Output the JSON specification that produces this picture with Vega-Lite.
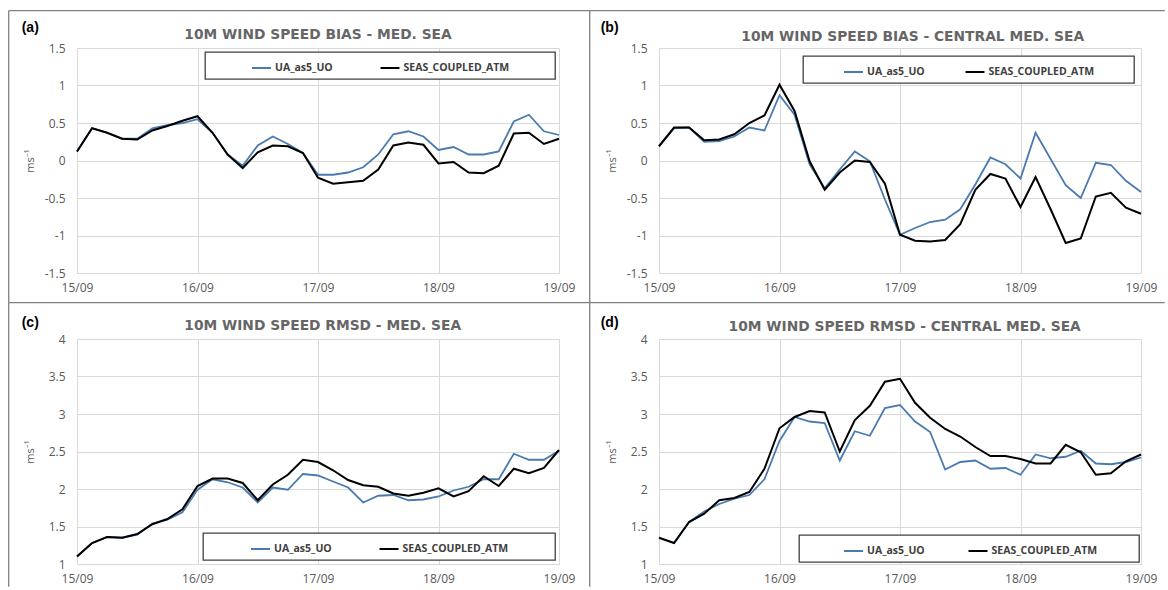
{
  "$schema": "https://vega.github.io/schema/vega-lite/v6.json",
  "padding": {"left": 8, "top": 10, "right": 0, "bottom": 0},
  "autosize": {"type": "pad"},
  "background": "white",
  "bounds": "flush",
  "columns": 2,
  "spacing": {"row": 66, "column": 100},
  "config": {
    "view": {"stroke": null},
    "axis": {
      "domain": false, "ticks": false, "tickSize": 0,
      "grid": true, "gridColor": "#d9d9d9", "gridWidth": 1,
      "labelFont": "Open Sans", "labelFontSize": 12, "labelColor": "#595959",
      "titleFont": "Open Sans", "titleFontWeight": "normal", "titleFontSize": 11, "titleColor": "#595959"
    },
    "legend": {
      "direction": "horizontal", "padding": 5.5,
      "strokeColor": "#404040", "strokeWidth": 1.3, "fillColor": "white",
      "labelFont": "Open Sans", "labelFontWeight": "bold", "labelFontSize": 10.5, "labelColor": "#404040",
      "symbolType": "stroke", "symbolSize": 360, "symbolStrokeWidth": 2, "labelOffset": 3,
      "titleOrient": "right", "titleFontSize": 4
    }
  },
  "resolve": {
    "scale": {"x": "independent", "y": "independent", "color": "independent"},
    "axis": {"x": "independent", "y": "independent"},
    "legend": {"color": "independent"}
  },
  "datasets": {
    "a": [
      {"t": "2019-09-15T00:00", "UA_as5_UO": 0.12, "SEAS_COUPLED_ATM": 0.12},
      {"t": "2019-09-15T03:00", "UA_as5_UO": 0.43, "SEAS_COUPLED_ATM": 0.43},
      {"t": "2019-09-15T06:00", "UA_as5_UO": 0.37, "SEAS_COUPLED_ATM": 0.37},
      {"t": "2019-09-15T09:00", "UA_as5_UO": 0.29, "SEAS_COUPLED_ATM": 0.29},
      {"t": "2019-09-15T12:00", "UA_as5_UO": 0.29, "SEAS_COUPLED_ATM": 0.28},
      {"t": "2019-09-15T15:00", "UA_as5_UO": 0.43, "SEAS_COUPLED_ATM": 0.40},
      {"t": "2019-09-15T18:00", "UA_as5_UO": 0.47, "SEAS_COUPLED_ATM": 0.46},
      {"t": "2019-09-15T21:00", "UA_as5_UO": 0.50, "SEAS_COUPLED_ATM": 0.53},
      {"t": "2019-09-16T00:00", "UA_as5_UO": 0.55, "SEAS_COUPLED_ATM": 0.59},
      {"t": "2019-09-16T03:00", "UA_as5_UO": 0.37, "SEAS_COUPLED_ATM": 0.37},
      {"t": "2019-09-16T06:00", "UA_as5_UO": 0.08, "SEAS_COUPLED_ATM": 0.08},
      {"t": "2019-09-16T09:00", "UA_as5_UO": -0.07, "SEAS_COUPLED_ATM": -0.10},
      {"t": "2019-09-16T12:00", "UA_as5_UO": 0.20, "SEAS_COUPLED_ATM": 0.11},
      {"t": "2019-09-16T15:00", "UA_as5_UO": 0.32, "SEAS_COUPLED_ATM": 0.20},
      {"t": "2019-09-16T18:00", "UA_as5_UO": 0.22, "SEAS_COUPLED_ATM": 0.19},
      {"t": "2019-09-16T21:00", "UA_as5_UO": 0.10, "SEAS_COUPLED_ATM": 0.10},
      {"t": "2019-09-17T00:00", "UA_as5_UO": -0.19, "SEAS_COUPLED_ATM": -0.23},
      {"t": "2019-09-17T03:00", "UA_as5_UO": -0.19, "SEAS_COUPLED_ATM": -0.31},
      {"t": "2019-09-17T06:00", "UA_as5_UO": -0.16, "SEAS_COUPLED_ATM": -0.29},
      {"t": "2019-09-17T09:00", "UA_as5_UO": -0.09, "SEAS_COUPLED_ATM": -0.27},
      {"t": "2019-09-17T12:00", "UA_as5_UO": 0.08, "SEAS_COUPLED_ATM": -0.12},
      {"t": "2019-09-17T15:00", "UA_as5_UO": 0.35, "SEAS_COUPLED_ATM": 0.20},
      {"t": "2019-09-17T18:00", "UA_as5_UO": 0.39, "SEAS_COUPLED_ATM": 0.24},
      {"t": "2019-09-17T21:00", "UA_as5_UO": 0.32, "SEAS_COUPLED_ATM": 0.21},
      {"t": "2019-09-18T00:00", "UA_as5_UO": 0.14, "SEAS_COUPLED_ATM": -0.04},
      {"t": "2019-09-18T03:00", "UA_as5_UO": 0.18, "SEAS_COUPLED_ATM": -0.02},
      {"t": "2019-09-18T06:00", "UA_as5_UO": 0.08, "SEAS_COUPLED_ATM": -0.16},
      {"t": "2019-09-18T09:00", "UA_as5_UO": 0.08, "SEAS_COUPLED_ATM": -0.17},
      {"t": "2019-09-18T12:00", "UA_as5_UO": 0.12, "SEAS_COUPLED_ATM": -0.07},
      {"t": "2019-09-18T15:00", "UA_as5_UO": 0.52, "SEAS_COUPLED_ATM": 0.36},
      {"t": "2019-09-18T18:00", "UA_as5_UO": 0.61, "SEAS_COUPLED_ATM": 0.37},
      {"t": "2019-09-18T21:00", "UA_as5_UO": 0.39, "SEAS_COUPLED_ATM": 0.22},
      {"t": "2019-09-19T00:00", "UA_as5_UO": 0.34, "SEAS_COUPLED_ATM": 0.29}
    ],
    "b": [
      {"t": "2019-09-15T00:00", "UA_as5_UO": 0.19, "SEAS_COUPLED_ATM": 0.19},
      {"t": "2019-09-15T03:00", "UA_as5_UO": 0.43, "SEAS_COUPLED_ATM": 0.44},
      {"t": "2019-09-15T06:00", "UA_as5_UO": 0.44, "SEAS_COUPLED_ATM": 0.44},
      {"t": "2019-09-15T09:00", "UA_as5_UO": 0.25, "SEAS_COUPLED_ATM": 0.27},
      {"t": "2019-09-15T12:00", "UA_as5_UO": 0.26, "SEAS_COUPLED_ATM": 0.28},
      {"t": "2019-09-15T15:00", "UA_as5_UO": 0.32, "SEAS_COUPLED_ATM": 0.35},
      {"t": "2019-09-15T18:00", "UA_as5_UO": 0.44, "SEAS_COUPLED_ATM": 0.50},
      {"t": "2019-09-15T21:00", "UA_as5_UO": 0.40, "SEAS_COUPLED_ATM": 0.60},
      {"t": "2019-09-16T00:00", "UA_as5_UO": 0.87, "SEAS_COUPLED_ATM": 1.01},
      {"t": "2019-09-16T03:00", "UA_as5_UO": 0.61, "SEAS_COUPLED_ATM": 0.66},
      {"t": "2019-09-16T06:00", "UA_as5_UO": -0.05, "SEAS_COUPLED_ATM": -0.01},
      {"t": "2019-09-16T09:00", "UA_as5_UO": -0.37, "SEAS_COUPLED_ATM": -0.39},
      {"t": "2019-09-16T12:00", "UA_as5_UO": -0.12, "SEAS_COUPLED_ATM": -0.16},
      {"t": "2019-09-16T15:00", "UA_as5_UO": 0.12, "SEAS_COUPLED_ATM": 0.00},
      {"t": "2019-09-16T18:00", "UA_as5_UO": -0.01, "SEAS_COUPLED_ATM": -0.02},
      {"t": "2019-09-16T21:00", "UA_as5_UO": -0.52, "SEAS_COUPLED_ATM": -0.31},
      {"t": "2019-09-17T00:00", "UA_as5_UO": -0.99, "SEAS_COUPLED_ATM": -0.99},
      {"t": "2019-09-17T03:00", "UA_as5_UO": -0.90, "SEAS_COUPLED_ATM": -1.07},
      {"t": "2019-09-17T06:00", "UA_as5_UO": -0.82, "SEAS_COUPLED_ATM": -1.08},
      {"t": "2019-09-17T09:00", "UA_as5_UO": -0.79, "SEAS_COUPLED_ATM": -1.06},
      {"t": "2019-09-17T12:00", "UA_as5_UO": -0.65, "SEAS_COUPLED_ATM": -0.85},
      {"t": "2019-09-17T15:00", "UA_as5_UO": -0.32, "SEAS_COUPLED_ATM": -0.39},
      {"t": "2019-09-17T18:00", "UA_as5_UO": 0.04, "SEAS_COUPLED_ATM": -0.18},
      {"t": "2019-09-17T21:00", "UA_as5_UO": -0.05, "SEAS_COUPLED_ATM": -0.24},
      {"t": "2019-09-18T00:00", "UA_as5_UO": -0.24, "SEAS_COUPLED_ATM": -0.62},
      {"t": "2019-09-18T03:00", "UA_as5_UO": 0.37, "SEAS_COUPLED_ATM": -0.22},
      {"t": "2019-09-18T06:00", "UA_as5_UO": 0.02, "SEAS_COUPLED_ATM": -0.65},
      {"t": "2019-09-18T09:00", "UA_as5_UO": -0.33, "SEAS_COUPLED_ATM": -1.10},
      {"t": "2019-09-18T12:00", "UA_as5_UO": -0.50, "SEAS_COUPLED_ATM": -1.04},
      {"t": "2019-09-18T15:00", "UA_as5_UO": -0.03, "SEAS_COUPLED_ATM": -0.48},
      {"t": "2019-09-18T18:00", "UA_as5_UO": -0.06, "SEAS_COUPLED_ATM": -0.43},
      {"t": "2019-09-18T21:00", "UA_as5_UO": -0.27, "SEAS_COUPLED_ATM": -0.63},
      {"t": "2019-09-19T00:00", "UA_as5_UO": -0.42, "SEAS_COUPLED_ATM": -0.71}
    ],
    "c": [
      {"t": "2019-09-15T00:00", "UA_as5_UO": 1.10, "SEAS_COUPLED_ATM": 1.10},
      {"t": "2019-09-15T03:00", "UA_as5_UO": 1.28, "SEAS_COUPLED_ATM": 1.28},
      {"t": "2019-09-15T06:00", "UA_as5_UO": 1.36, "SEAS_COUPLED_ATM": 1.36},
      {"t": "2019-09-15T09:00", "UA_as5_UO": 1.35, "SEAS_COUPLED_ATM": 1.35},
      {"t": "2019-09-15T12:00", "UA_as5_UO": 1.39, "SEAS_COUPLED_ATM": 1.40},
      {"t": "2019-09-15T15:00", "UA_as5_UO": 1.54, "SEAS_COUPLED_ATM": 1.53},
      {"t": "2019-09-15T18:00", "UA_as5_UO": 1.59, "SEAS_COUPLED_ATM": 1.60},
      {"t": "2019-09-15T21:00", "UA_as5_UO": 1.69, "SEAS_COUPLED_ATM": 1.73},
      {"t": "2019-09-16T00:00", "UA_as5_UO": 1.99, "SEAS_COUPLED_ATM": 2.04},
      {"t": "2019-09-16T03:00", "UA_as5_UO": 2.13, "SEAS_COUPLED_ATM": 2.14},
      {"t": "2019-09-16T06:00", "UA_as5_UO": 2.09, "SEAS_COUPLED_ATM": 2.14},
      {"t": "2019-09-16T09:00", "UA_as5_UO": 2.02, "SEAS_COUPLED_ATM": 2.08},
      {"t": "2019-09-16T12:00", "UA_as5_UO": 1.82, "SEAS_COUPLED_ATM": 1.85},
      {"t": "2019-09-16T15:00", "UA_as5_UO": 2.02, "SEAS_COUPLED_ATM": 2.06},
      {"t": "2019-09-16T18:00", "UA_as5_UO": 1.99, "SEAS_COUPLED_ATM": 2.19},
      {"t": "2019-09-16T21:00", "UA_as5_UO": 2.20, "SEAS_COUPLED_ATM": 2.39},
      {"t": "2019-09-17T00:00", "UA_as5_UO": 2.18, "SEAS_COUPLED_ATM": 2.36},
      {"t": "2019-09-17T03:00", "UA_as5_UO": 2.10, "SEAS_COUPLED_ATM": 2.25},
      {"t": "2019-09-17T06:00", "UA_as5_UO": 2.02, "SEAS_COUPLED_ATM": 2.12},
      {"t": "2019-09-17T09:00", "UA_as5_UO": 1.82, "SEAS_COUPLED_ATM": 2.05},
      {"t": "2019-09-17T12:00", "UA_as5_UO": 1.91, "SEAS_COUPLED_ATM": 2.03},
      {"t": "2019-09-17T15:00", "UA_as5_UO": 1.92, "SEAS_COUPLED_ATM": 1.94},
      {"t": "2019-09-17T18:00", "UA_as5_UO": 1.85, "SEAS_COUPLED_ATM": 1.91},
      {"t": "2019-09-17T21:00", "UA_as5_UO": 1.86, "SEAS_COUPLED_ATM": 1.95},
      {"t": "2019-09-18T00:00", "UA_as5_UO": 1.90, "SEAS_COUPLED_ATM": 2.01},
      {"t": "2019-09-18T03:00", "UA_as5_UO": 1.98, "SEAS_COUPLED_ATM": 1.90},
      {"t": "2019-09-18T06:00", "UA_as5_UO": 2.03, "SEAS_COUPLED_ATM": 1.97},
      {"t": "2019-09-18T09:00", "UA_as5_UO": 2.13, "SEAS_COUPLED_ATM": 2.17},
      {"t": "2019-09-18T12:00", "UA_as5_UO": 2.13, "SEAS_COUPLED_ATM": 2.04},
      {"t": "2019-09-18T15:00", "UA_as5_UO": 2.47, "SEAS_COUPLED_ATM": 2.27},
      {"t": "2019-09-18T18:00", "UA_as5_UO": 2.39, "SEAS_COUPLED_ATM": 2.21},
      {"t": "2019-09-18T21:00", "UA_as5_UO": 2.39, "SEAS_COUPLED_ATM": 2.28},
      {"t": "2019-09-19T00:00", "UA_as5_UO": 2.51, "SEAS_COUPLED_ATM": 2.52}
    ],
    "d": [
      {"t": "2019-09-15T00:00", "UA_as5_UO": 1.35, "SEAS_COUPLED_ATM": 1.35},
      {"t": "2019-09-15T03:00", "UA_as5_UO": 1.28, "SEAS_COUPLED_ATM": 1.28},
      {"t": "2019-09-15T06:00", "UA_as5_UO": 1.56, "SEAS_COUPLED_ATM": 1.56},
      {"t": "2019-09-15T09:00", "UA_as5_UO": 1.70, "SEAS_COUPLED_ATM": 1.67},
      {"t": "2019-09-15T12:00", "UA_as5_UO": 1.80, "SEAS_COUPLED_ATM": 1.85},
      {"t": "2019-09-15T15:00", "UA_as5_UO": 1.87, "SEAS_COUPLED_ATM": 1.88},
      {"t": "2019-09-15T18:00", "UA_as5_UO": 1.92, "SEAS_COUPLED_ATM": 1.96},
      {"t": "2019-09-15T21:00", "UA_as5_UO": 2.13, "SEAS_COUPLED_ATM": 2.27},
      {"t": "2019-09-16T00:00", "UA_as5_UO": 2.64, "SEAS_COUPLED_ATM": 2.81},
      {"t": "2019-09-16T03:00", "UA_as5_UO": 2.96, "SEAS_COUPLED_ATM": 2.96},
      {"t": "2019-09-16T06:00", "UA_as5_UO": 2.90, "SEAS_COUPLED_ATM": 3.04},
      {"t": "2019-09-16T09:00", "UA_as5_UO": 2.88, "SEAS_COUPLED_ATM": 3.02},
      {"t": "2019-09-16T12:00", "UA_as5_UO": 2.38, "SEAS_COUPLED_ATM": 2.50},
      {"t": "2019-09-16T15:00", "UA_as5_UO": 2.77, "SEAS_COUPLED_ATM": 2.92},
      {"t": "2019-09-16T18:00", "UA_as5_UO": 2.71, "SEAS_COUPLED_ATM": 3.11},
      {"t": "2019-09-16T21:00", "UA_as5_UO": 3.08, "SEAS_COUPLED_ATM": 3.43},
      {"t": "2019-09-17T00:00", "UA_as5_UO": 3.12, "SEAS_COUPLED_ATM": 3.47},
      {"t": "2019-09-17T03:00", "UA_as5_UO": 2.90, "SEAS_COUPLED_ATM": 3.15},
      {"t": "2019-09-17T06:00", "UA_as5_UO": 2.76, "SEAS_COUPLED_ATM": 2.95},
      {"t": "2019-09-17T09:00", "UA_as5_UO": 2.26, "SEAS_COUPLED_ATM": 2.80},
      {"t": "2019-09-17T12:00", "UA_as5_UO": 2.36, "SEAS_COUPLED_ATM": 2.70},
      {"t": "2019-09-17T15:00", "UA_as5_UO": 2.38, "SEAS_COUPLED_ATM": 2.56},
      {"t": "2019-09-17T18:00", "UA_as5_UO": 2.27, "SEAS_COUPLED_ATM": 2.44},
      {"t": "2019-09-17T21:00", "UA_as5_UO": 2.28, "SEAS_COUPLED_ATM": 2.44},
      {"t": "2019-09-18T00:00", "UA_as5_UO": 2.19, "SEAS_COUPLED_ATM": 2.40},
      {"t": "2019-09-18T03:00", "UA_as5_UO": 2.46, "SEAS_COUPLED_ATM": 2.34},
      {"t": "2019-09-18T06:00", "UA_as5_UO": 2.41, "SEAS_COUPLED_ATM": 2.34},
      {"t": "2019-09-18T09:00", "UA_as5_UO": 2.43, "SEAS_COUPLED_ATM": 2.59},
      {"t": "2019-09-18T12:00", "UA_as5_UO": 2.51, "SEAS_COUPLED_ATM": 2.49},
      {"t": "2019-09-18T15:00", "UA_as5_UO": 2.34, "SEAS_COUPLED_ATM": 2.19},
      {"t": "2019-09-18T18:00", "UA_as5_UO": 2.33, "SEAS_COUPLED_ATM": 2.21},
      {"t": "2019-09-18T21:00", "UA_as5_UO": 2.36, "SEAS_COUPLED_ATM": 2.37},
      {"t": "2019-09-19T00:00", "UA_as5_UO": 2.42, "SEAS_COUPLED_ATM": 2.46}
    ]
  },
  "concat": [
    {
      "width": 482, "height": 225,
      "layer": [
        {
          "data": {"name": "a"},
          "transform": [{"fold": ["UA_as5_UO", "SEAS_COUPLED_ATM"], "as": ["series", "value"]}, {"filter": "datum.series === 'UA_as5_UO'"}],
          "mark": {"type": "line", "strokeWidth": 1.8},
          "encoding": {
            "x": {"field": "t", "type": "temporal", "scale": {"domain": [{"year": 2019, "month": 9, "date": 15}, {"year": 2019, "month": 9, "date": 19}]},
                  "axis": {"title": null, "format": "%d/%m", "tickCount": {"interval": "day", "step": 1}, "labelPadding": 9, "labelFlush": false}},
            "y": {"field": "value", "type": "quantitative", "scale": {"domain": [-1.5, 1.5], "nice": false, "zero": false},
                  "axis": {"title": "ms⁻¹", "values": [-1.5, -1, -0.5, 0, 0.5, 1, 1.5], "tickCount": 7, "labelExpr": "'' + datum.value", "labelPadding": 12, "titleX": -47, "titleY": 112.5, "titleAngle": -90, "titleBaseline": "middle", "titleAlign": "center"}},
            "color": {"field": "series", "type": "nominal", "scale": {"domain": ["UA_as5_UO", "SEAS_COUPLED_ATM"], "range": ["#4a7ab0", "#000000"]},
                      "legend": {"title": " ", "orient": "top-right", "offset": 4, "symbolOffset": 40.5, "columnPadding": 5.5, "titlePadding": 39.5}}
          }
        },
        {
          "data": {"name": "a"},
          "transform": [{"fold": ["UA_as5_UO", "SEAS_COUPLED_ATM"], "as": ["series", "value"]}, {"filter": "datum.series === 'SEAS_COUPLED_ATM'"}],
          "mark": {"type": "line", "strokeWidth": 2},
          "encoding": {
            "x": {"field": "t", "type": "temporal"},
            "y": {"field": "value", "type": "quantitative"},
            "color": {"field": "series", "type": "nominal"}
          }
        },
        {
          "data": {"values": [{}]},
          "mark": {"type": "rule", "color": "#7f7f7f", "strokeWidth": 1.3},
          "encoding": {
            "x": {"datum": {"year": 2019, "month": 9, "date": 14, "hours": 10, "minutes": 24}, "type": "temporal"},
            "y": {"datum": 1.997}, "y2": {"datum": -1.896}
          }
        },
        {
          "data": {"values": [{}]},
          "mark": {"type": "rule", "color": "#7f7f7f", "strokeWidth": 1.3},
          "encoding": {
            "x": {"datum": {"year": 2019, "month": 9, "date": 14, "hours": 10, "minutes": 24}, "type": "temporal"},
            "x2": {"datum": {"year": 2019, "month": 9, "date": 19, "hours": 6, "minutes": 7}},
            "y": {"datum": 1.997}
          }
        },
        {
          "data": {"values": [{}]},
          "mark": {"type": "text", "text": "10M WIND SPEED BIAS - MED. SEA", "font": "DejaVu Sans", "fontWeight": "bold", "fontSize": 13.8, "color": "#666666", "align": "center", "baseline": "middle"},
          "encoding": {
            "x": {"datum": {"year": 2019, "month": 9, "date": 17, "hours": 0, "minutes": 0}, "type": "temporal"},
            "y": {"datum": 1.677}
          }
        },
        {
          "data": {"values": [{}]},
          "mark": {"type": "text", "text": "(a)", "font": "Liberation Sans", "fontWeight": "bold", "fontSize": 14, "color": "#000000", "align": "left", "baseline": "middle"},
          "encoding": {
            "x": {"datum": {"year": 2019, "month": 9, "date": 14, "hours": 12, "minutes": 59}, "type": "temporal"},
            "y": {"datum": 1.771}
          }
        }
      ]
    },
    {
      "width": 482, "height": 225,
      "layer": [
        {
          "data": {"name": "b"},
          "transform": [{"fold": ["UA_as5_UO", "SEAS_COUPLED_ATM"], "as": ["series", "value"]}, {"filter": "datum.series === 'UA_as5_UO'"}],
          "mark": {"type": "line", "strokeWidth": 1.8},
          "encoding": {
            "x": {"field": "t", "type": "temporal", "scale": {"domain": [{"year": 2019, "month": 9, "date": 15}, {"year": 2019, "month": 9, "date": 19}]},
                  "axis": {"title": null, "format": "%d/%m", "tickCount": {"interval": "day", "step": 1}, "labelPadding": 9, "labelFlush": false}},
            "y": {"field": "value", "type": "quantitative", "scale": {"domain": [-1.5, 1.5], "nice": false, "zero": false},
                  "axis": {"title": "ms⁻¹", "values": [-1.5, -1, -0.5, 0, 0.5, 1, 1.5], "tickCount": 7, "labelExpr": "'' + datum.value", "labelPadding": 12, "titleX": -47, "titleY": 112.5, "titleAngle": -90, "titleBaseline": "middle", "titleAlign": "center"}},
            "color": {"field": "series", "type": "nominal", "scale": {"domain": ["UA_as5_UO", "SEAS_COUPLED_ATM"], "range": ["#4a7ab0", "#000000"]},
                      "legend": {"title": " ", "orient": "top-right", "offset": 7.5, "symbolOffset": 34.5, "columnPadding": 4.5, "titlePadding": 33.5}}
          }
        },
        {
          "data": {"name": "b"},
          "transform": [{"fold": ["UA_as5_UO", "SEAS_COUPLED_ATM"], "as": ["series", "value"]}, {"filter": "datum.series === 'SEAS_COUPLED_ATM'"}],
          "mark": {"type": "line", "strokeWidth": 2},
          "encoding": {
            "x": {"field": "t", "type": "temporal"},
            "y": {"field": "value", "type": "quantitative"},
            "color": {"field": "series", "type": "nominal"}
          }
        },
        {
          "data": {"values": [{}]},
          "mark": {"type": "rule", "color": "#7f7f7f", "strokeWidth": 1.3},
          "encoding": {
            "x": {"datum": {"year": 2019, "month": 9, "date": 14, "hours": 10, "minutes": 12}, "type": "temporal"},
            "y": {"datum": 1.997}, "y2": {"datum": -1.896}
          }
        },
        {
          "data": {"values": [{}]},
          "mark": {"type": "rule", "color": "#7f7f7f", "strokeWidth": 1.3},
          "encoding": {
            "x": {"datum": {"year": 2019, "month": 9, "date": 14, "hours": 10, "minutes": 12}, "type": "temporal"},
            "x2": {"datum": {"year": 2019, "month": 9, "date": 19, "hours": 4, "minutes": 43}},
            "y": {"datum": 1.997}
          }
        },
        {
          "data": {"values": [{}]},
          "mark": {"type": "text", "text": "10M WIND SPEED BIAS - CENTRAL MED. SEA", "font": "DejaVu Sans", "fontWeight": "bold", "fontSize": 13.8, "color": "#666666", "align": "center", "baseline": "middle"},
          "encoding": {
            "x": {"datum": {"year": 2019, "month": 9, "date": 17, "hours": 2, "minutes": 32}, "type": "temporal"},
            "y": {"datum": 1.651}
          }
        },
        {
          "data": {"values": [{}]},
          "mark": {"type": "text", "text": "(b)", "font": "Liberation Sans", "fontWeight": "bold", "fontSize": 14, "color": "#000000", "align": "left", "baseline": "middle"},
          "encoding": {
            "x": {"datum": {"year": 2019, "month": 9, "date": 14, "hours": 12, "minutes": 23}, "type": "temporal"},
            "y": {"datum": 1.771}
          }
        }
      ]
    },
    {
      "width": 482, "height": 225,
      "layer": [
        {
          "data": {"name": "c"},
          "transform": [{"fold": ["UA_as5_UO", "SEAS_COUPLED_ATM"], "as": ["series", "value"]}, {"filter": "datum.series === 'UA_as5_UO'"}],
          "mark": {"type": "line", "strokeWidth": 1.8},
          "encoding": {
            "x": {"field": "t", "type": "temporal", "scale": {"domain": [{"year": 2019, "month": 9, "date": 15}, {"year": 2019, "month": 9, "date": 19}]},
                  "axis": {"title": null, "format": "%d/%m", "tickCount": {"interval": "day", "step": 1}, "labelPadding": 9, "labelFlush": false}},
            "y": {"field": "value", "type": "quantitative", "scale": {"domain": [1, 4], "nice": false, "zero": false},
                  "axis": {"title": "ms⁻¹", "values": [1, 1.5, 2, 2.5, 3, 3.5, 4], "tickCount": 7, "labelExpr": "'' + datum.value", "labelPadding": 12, "titleX": -47, "titleY": 112.5, "titleAngle": -90, "titleBaseline": "middle", "titleAlign": "center"}},
            "color": {"field": "series", "type": "nominal", "scale": {"domain": ["UA_as5_UO", "SEAS_COUPLED_ATM"], "range": ["#4a7ab0", "#000000"]},
                      "legend": {"title": " ", "orient": "bottom-right", "offset": 4, "symbolOffset": 41.5, "columnPadding": 4.5, "titlePadding": 40.5}}
          }
        },
        {
          "data": {"name": "c"},
          "transform": [{"fold": ["UA_as5_UO", "SEAS_COUPLED_ATM"], "as": ["series", "value"]}, {"filter": "datum.series === 'SEAS_COUPLED_ATM'"}],
          "mark": {"type": "line", "strokeWidth": 2},
          "encoding": {
            "x": {"field": "t", "type": "temporal"},
            "y": {"field": "value", "type": "quantitative"},
            "color": {"field": "series", "type": "nominal"}
          }
        },
        {
          "data": {"values": [{}]},
          "mark": {"type": "rule", "color": "#7f7f7f", "strokeWidth": 1.3},
          "encoding": {
            "x": {"datum": {"year": 2019, "month": 9, "date": 14, "hours": 10, "minutes": 24}, "type": "temporal"},
            "y": {"datum": 4.484}, "y2": {"datum": 0.697}
          }
        },
        {
          "data": {"values": [{}]},
          "mark": {"type": "rule", "color": "#7f7f7f", "strokeWidth": 1.3},
          "encoding": {
            "x": {"datum": {"year": 2019, "month": 9, "date": 14, "hours": 10, "minutes": 24}, "type": "temporal"},
            "x2": {"datum": {"year": 2019, "month": 9, "date": 19, "hours": 6, "minutes": 7}},
            "y": {"datum": 4.484}
          }
        },
        {
          "data": {"values": [{}]},
          "mark": {"type": "text", "text": "10M WIND SPEED RMSD - MED. SEA", "font": "DejaVu Sans", "fontWeight": "bold", "fontSize": 13.8, "color": "#666666", "align": "center", "baseline": "middle"},
          "encoding": {
            "x": {"datum": {"year": 2019, "month": 9, "date": 17, "hours": 0, "minutes": 56}, "type": "temporal"},
            "y": {"datum": 4.177}
          }
        },
        {
          "data": {"values": [{}]},
          "mark": {"type": "text", "text": "(c)", "font": "Liberation Sans", "fontWeight": "bold", "fontSize": 14, "color": "#000000", "align": "left", "baseline": "middle"},
          "encoding": {
            "x": {"datum": {"year": 2019, "month": 9, "date": 14, "hours": 12, "minutes": 59}, "type": "temporal"},
            "y": {"datum": 4.217}
          }
        }
      ]
    },
    {
      "width": 482, "height": 225,
      "layer": [
        {
          "data": {"name": "d"},
          "transform": [{"fold": ["UA_as5_UO", "SEAS_COUPLED_ATM"], "as": ["series", "value"]}, {"filter": "datum.series === 'UA_as5_UO'"}],
          "mark": {"type": "line", "strokeWidth": 1.8},
          "encoding": {
            "x": {"field": "t", "type": "temporal", "scale": {"domain": [{"year": 2019, "month": 9, "date": 15}, {"year": 2019, "month": 9, "date": 19}]},
                  "axis": {"title": null, "format": "%d/%m", "tickCount": {"interval": "day", "step": 1}, "labelPadding": 9, "labelFlush": false}},
            "y": {"field": "value", "type": "quantitative", "scale": {"domain": [1, 4], "nice": false, "zero": false},
                  "axis": {"title": "ms⁻¹", "values": [1, 1.5, 2, 2.5, 3, 3.5, 4], "tickCount": 7, "labelExpr": "'' + datum.value", "labelPadding": 12, "titleX": -47, "titleY": 112.5, "titleAngle": -90, "titleBaseline": "middle", "titleAlign": "center"}},
            "color": {"field": "series", "type": "nominal", "scale": {"domain": ["UA_as5_UO", "SEAS_COUPLED_ATM"], "range": ["#4a7ab0", "#000000"]},
                      "legend": {"title": " ", "orient": "bottom-right", "offset": 2.5, "symbolOffset": 38.5, "columnPadding": 3.5, "titlePadding": 35.5}}
          }
        },
        {
          "data": {"name": "d"},
          "transform": [{"fold": ["UA_as5_UO", "SEAS_COUPLED_ATM"], "as": ["series", "value"]}, {"filter": "datum.series === 'SEAS_COUPLED_ATM'"}],
          "mark": {"type": "line", "strokeWidth": 2},
          "encoding": {
            "x": {"field": "t", "type": "temporal"},
            "y": {"field": "value", "type": "quantitative"},
            "color": {"field": "series", "type": "nominal"}
          }
        },
        {
          "data": {"values": [{}]},
          "mark": {"type": "rule", "color": "#7f7f7f", "strokeWidth": 1.3},
          "encoding": {
            "x": {"datum": {"year": 2019, "month": 9, "date": 14, "hours": 10, "minutes": 12}, "type": "temporal"},
            "y": {"datum": 4.484}, "y2": {"datum": 0.697}
          }
        },
        {
          "data": {"values": [{}]},
          "mark": {"type": "rule", "color": "#7f7f7f", "strokeWidth": 1.3},
          "encoding": {
            "x": {"datum": {"year": 2019, "month": 9, "date": 14, "hours": 10, "minutes": 12}, "type": "temporal"},
            "x2": {"datum": {"year": 2019, "month": 9, "date": 19, "hours": 4, "minutes": 43}},
            "y": {"datum": 4.484}
          }
        },
        {
          "data": {"values": [{}]},
          "mark": {"type": "text", "text": "10M WIND SPEED RMSD - CENTRAL MED. SEA", "font": "DejaVu Sans", "fontWeight": "bold", "fontSize": 13.8, "color": "#666666", "align": "center", "baseline": "middle"},
          "encoding": {
            "x": {"datum": {"year": 2019, "month": 9, "date": 17, "hours": 0, "minutes": 56}, "type": "temporal"},
            "y": {"datum": 4.164}
          }
        },
        {
          "data": {"values": [{}]},
          "mark": {"type": "text", "text": "(d)", "font": "Liberation Sans", "fontWeight": "bold", "fontSize": 14, "color": "#000000", "align": "left", "baseline": "middle"},
          "encoding": {
            "x": {"datum": {"year": 2019, "month": 9, "date": 14, "hours": 12, "minutes": 23}, "type": "temporal"},
            "y": {"datum": 4.217}
          }
        }
      ]
    }
  ]
}
